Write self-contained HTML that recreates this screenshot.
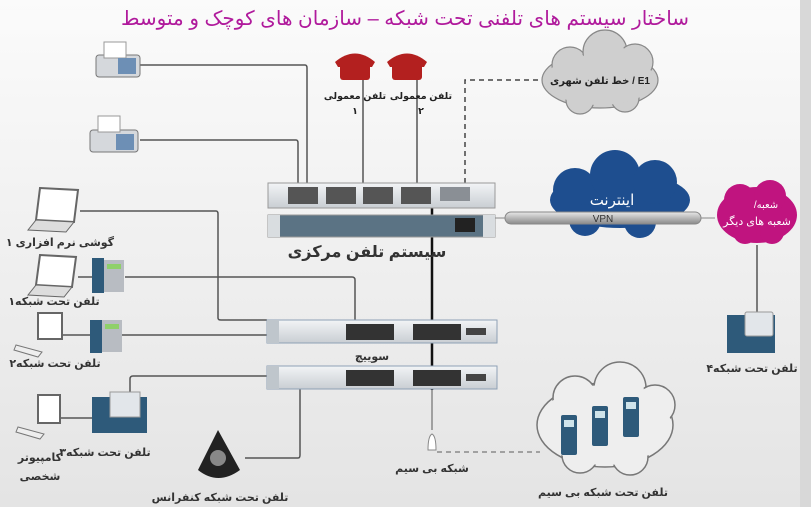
<!DOCTYPE html>
<html><head><meta charset="utf-8"><style>
html,body{margin:0;padding:0;}
body{width:811px;height:507px;overflow:hidden;}
svg text{font-family:"Liberation Sans","DejaVu Sans",sans-serif;}
</style></head><body>
<svg width="811" height="507" viewBox="0 0 811 507" xmlns="http://www.w3.org/2000/svg">
<defs>
<linearGradient id="bg" x1="0" y1="0" x2="0" y2="1"><stop offset="0" stop-color="#fbfbfb"/><stop offset="1" stop-color="#e4e4e4"/></linearGradient>
<linearGradient id="pipe" x1="0" y1="0" x2="0" y2="1"><stop offset="0" stop-color="#e8e8e8"/><stop offset="0.5" stop-color="#b8b8b8"/><stop offset="1" stop-color="#8a8a8a"/></linearGradient>
<linearGradient id="dev" x1="0" y1="0" x2="0" y2="1"><stop offset="0" stop-color="#f2f4f6"/><stop offset="1" stop-color="#c9ced3"/></linearGradient>
</defs>
<rect width="811" height="507" fill="url(#bg)"/>
<rect x="800" y="0" width="11" height="507" fill="#d8d8d8"/>
<text x="405" y="25" text-anchor="middle" font-size="20" fill="#b01a9c" direction="rtl">ساختار سیستم های تلفنی تحت شبکه – سازمان های کوچک و متوسط</text>

<!-- connectors -->
<g fill="none" stroke="#555" stroke-width="1.5">
<path d="M140 65 H305 Q307 65 307 68 V183"/>
<path d="M140 140 H296 Q298 140 298 143 V183"/>
<path d="M363 80 V183"/><path d="M417 80 V183"/>
<path d="M80 211 H216 Q218 211 218 214 V318 Q218 320 221 320 H267"/>
<path d="M125 277 H352 Q355 277 355 280 V320"/>
<path d="M122 335 H267"/>
<path d="M60 418 H92"/><path d="M62 335 H90"/><path d="M78 277 H92"/>
<path d="M130 395 V379 Q130 376 133 376 H267"/>
<path d="M245 458 H298 Q300 458 300 455 V389"/>
<path d="M757 245 V312"/>
<path d="M432 390 V430" stroke="#888"/>
</g>
<path d="M432 198 V390" stroke="#111" stroke-width="2.5"/>
<path d="M465 183 V80 H545" stroke="#444" stroke-width="1.5" stroke-dasharray="5,4" fill="none"/>
<path d="M437 452 H540" stroke="#777" stroke-width="1.2" stroke-dasharray="5,4" fill="none"/>

<!-- faxes -->
<g>
<rect x="96" y="55" width="44" height="22" rx="3" fill="#d5d8dc" stroke="#777"/>
<rect x="104" y="42" width="22" height="16" fill="#fff" stroke="#999"/>
<rect x="118" y="58" width="18" height="16" fill="#6d8fb5"/>
<rect x="90" y="130" width="48" height="22" rx="3" fill="#d5d8dc" stroke="#777"/>
<rect x="98" y="116" width="22" height="16" fill="#fff" stroke="#999"/>
<rect x="116" y="134" width="18" height="16" fill="#6d8fb5"/>
</g>
<!-- red phones -->
<g fill="#b3201f">
<path d="M335 62 Q355 45 375 62 L372 67 H338 Z"/><rect x="340" y="64" width="30" height="16" rx="3"/>
<path d="M387 62 Q407 45 427 62 L424 67 H390 Z"/><rect x="392" y="64" width="30" height="16" rx="3"/>
</g>
<g font-size="9.5" font-weight="bold" fill="#222" text-anchor="middle" direction="rtl">
<text x="355" y="99">تلفن معمولی</text><text x="355" y="114">۱</text>
<text x="421" y="99">تلفن معمولی</text><text x="421" y="114">۲</text>
</g>

<!-- E1 cloud -->
<g fill="#cfcfcf" stroke="#888" stroke-width="1.2">
<ellipse cx="600" cy="80" rx="58" ry="28"/><circle cx="570" cy="65" r="18"/><circle cx="605" cy="52" r="22"/><circle cx="635" cy="62" r="18"/><circle cx="580" cy="100" r="14"/><circle cx="625" cy="98" r="14"/>
</g>
<ellipse cx="600" cy="80" rx="55" ry="25" fill="#cfcfcf"/><circle cx="605" cy="55" r="20" fill="#cfcfcf"/><circle cx="572" cy="67" r="16" fill="#cfcfcf"/><circle cx="634" cy="64" r="16" fill="#cfcfcf"/>
<text x="600" y="84" text-anchor="middle" font-size="10" font-weight="bold" fill="#222" direction="rtl">E1 / خط تلفن شهری</text>

<!-- central system -->
<rect x="268" y="183" width="227" height="25" fill="url(#dev)" stroke="#999"/>
<rect x="288" y="187" width="30" height="17" fill="#555"/><rect x="326" y="187" width="30" height="17" fill="#555"/><rect x="363" y="187" width="30" height="17" fill="#555"/><rect x="401" y="187" width="30" height="17" fill="#555"/>
<rect x="440" y="187" width="30" height="14" fill="#8a8f95"/>
<rect x="268" y="215" width="227" height="22" fill="#5b7384" stroke="#999"/>
<rect x="268" y="215" width="12" height="22" fill="#d9dde0"/><rect x="483" y="215" width="12" height="22" fill="#d9dde0"/>
<rect x="455" y="218" width="20" height="14" fill="#222"/>
<text x="367" y="257" text-anchor="middle" font-size="16" font-weight="bold" fill="#333" direction="rtl">سیستم تلفن مرکزی</text>

<!-- internet cloud -->
<g fill="#1e4e8f">
<ellipse cx="620" cy="200" rx="70" ry="28"/><circle cx="575" cy="190" r="22"/><circle cx="615" cy="175" r="25"/><circle cx="655" cy="182" r="22"/><circle cx="585" cy="220" r="16"/><circle cx="640" cy="222" r="16"/>
</g>
<text x="612" y="205" text-anchor="middle" font-size="15" fill="#fff" direction="rtl">اینترنت</text>
<rect x="505" y="212" width="196" height="12" rx="6" fill="url(#pipe)" stroke="#888"/>
<line x1="495" y1="218" x2="505" y2="218" stroke="#888"/><line x1="701" y1="218" x2="715" y2="218" stroke="#888"/>
<text x="603" y="222" text-anchor="middle" font-size="10" fill="#333">VPN</text>

<!-- magenta cloud -->
<g fill="#c0147f">
<ellipse cx="757" cy="215" rx="40" ry="28"/><circle cx="740" cy="200" r="16"/><circle cx="770" cy="196" r="16"/><circle cx="745" cy="232" r="12"/><circle cx="772" cy="232" r="12"/>
</g>
<text x="766" y="208" text-anchor="middle" font-size="10" fill="#fff" direction="rtl">شعبه/</text>
<text x="757" y="225" text-anchor="middle" font-size="11" fill="#fff" direction="rtl">شعبه های دیگر</text>

<!-- phone4 -->
<rect x="727" y="315" width="48" height="38" fill="#2e5a7a"/><rect x="745" y="312" width="28" height="24" rx="2" fill="#e2e6ea" stroke="#999"/>
<text x="752" y="372" text-anchor="middle" font-size="11" font-weight="bold" fill="#333" direction="rtl">تلفن تحت شبکه۴</text>

<!-- switches -->
<g>
<rect x="267" y="320" width="230" height="23" fill="url(#dev)" stroke="#8ea0b5"/>
<rect x="267" y="320" width="12" height="23" fill="#bfc6cc"/>
<rect x="346" y="324" width="48" height="16" fill="#333"/><rect x="413" y="324" width="48" height="16" fill="#333"/>
<rect x="466" y="328" width="20" height="7" fill="#444"/>
<rect x="267" y="366" width="230" height="23" fill="url(#dev)" stroke="#8ea0b5"/>
<rect x="267" y="366" width="12" height="23" fill="#bfc6cc"/>
<rect x="346" y="370" width="48" height="16" fill="#333"/><rect x="413" y="370" width="48" height="16" fill="#333"/>
<rect x="466" y="374" width="20" height="7" fill="#444"/>
</g>
<text x="372" y="360" text-anchor="middle" font-size="11" font-weight="bold" fill="#333" direction="rtl">سوییچ</text>

<!-- antenna -->
<path d="M428 450 Q428 436 432 434 Q436 436 436 450 Z" fill="#fff" stroke="#888"/>
<text x="432" y="472" text-anchor="middle" font-size="11" font-weight="bold" fill="#333" direction="rtl">شبکه بی سیم</text>

<!-- wireless cloud -->
<g fill="#eeeeee" stroke="#777" stroke-width="1.5">
<ellipse cx="605" cy="425" rx="68" ry="42"/><circle cx="575" cy="398" r="22"/><circle cx="620" cy="388" r="26"/><circle cx="655" cy="405" r="20"/><circle cx="580" cy="455" r="18"/><circle cx="630" cy="457" r="18"/>
</g>
<ellipse cx="605" cy="425" rx="66" ry="40" fill="#eeeeee"/><circle cx="620" cy="392" r="24" fill="#eee"/><circle cx="576" cy="402" r="20" fill="#eee"/><circle cx="654" cy="408" r="18" fill="#eee"/><circle cx="582" cy="452" r="16" fill="#eee"/><circle cx="630" cy="454" r="16" fill="#eee"/>
<g fill="#2e5a7a"><rect x="561" y="415" width="16" height="40" rx="2"/><rect x="592" y="406" width="16" height="40" rx="2"/><rect x="623" y="397" width="16" height="40" rx="2"/></g>
<g fill="#cfe3ea"><rect x="564" y="420" width="10" height="7"/><rect x="595" y="411" width="10" height="7"/><rect x="626" y="402" width="10" height="7"/></g>
<text x="603" y="496" text-anchor="middle" font-size="11" font-weight="bold" fill="#333" direction="rtl">تلفن تحت شبکه بی سیم</text>

<!-- left devices -->
<g>
<path d="M40 188 L78 190 L74 222 L36 220 Z" fill="#fff" stroke="#666" stroke-width="2"/>
<path d="M36 220 L74 222 L66 232 L28 230 Z" fill="#ddd" stroke="#666"/>
<path d="M40 255 L76 257 L72 287 L36 285 Z" fill="#fff" stroke="#666" stroke-width="2"/>
<path d="M36 285 L72 287 L64 297 L28 295 Z" fill="#ddd" stroke="#666"/>
<rect x="92" y="258" width="12" height="35" fill="#2e5a7a"/><rect x="104" y="260" width="20" height="32" fill="#b8bcc2"/><rect x="107" y="264" width="14" height="5" fill="#8fd06a"/>
<rect x="38" y="313" width="24" height="26" fill="#fff" stroke="#666" stroke-width="2"/>
<path d="M16 345 L42 352 L38 357 L14 350 Z" fill="#eee" stroke="#777"/>
<rect x="90" y="320" width="12" height="33" fill="#2e5a7a"/><rect x="102" y="320" width="20" height="32" fill="#b8bcc2"/><rect x="105" y="324" width="14" height="5" fill="#8fd06a"/>
<rect x="38" y="395" width="22" height="28" fill="#fff" stroke="#666" stroke-width="2"/>
<path d="M18 427 L44 434 L40 439 L16 432 Z" fill="#eee" stroke="#777"/>
<rect x="92" y="397" width="55" height="36" fill="#2e5a7a"/><rect x="110" y="392" width="30" height="25" fill="#e2e6ea" stroke="#999"/>
<path d="M218 430 L198 470 Q218 486 240 470 Z" fill="#222"/><circle cx="218" cy="458" r="8" fill="#888"/>
</g>
<g font-size="11" font-weight="bold" fill="#333" text-anchor="middle" direction="rtl">
<text x="60" y="246">گوشی نرم افزاری ۱</text>
<text x="54" y="305">تلفن تحت شبکه۱</text>
<text x="55" y="367">تلفن تحت شبکه۲</text>
<text x="105" y="456">تلفن تحت شبکه۳</text>
<text x="40" y="461">کامپیوتر</text>
<text x="40" y="480">شخصی</text>
<text x="220" y="501">تلفن تحت شبکه کنفرانس</text>
</g>
</svg>
</body></html>
